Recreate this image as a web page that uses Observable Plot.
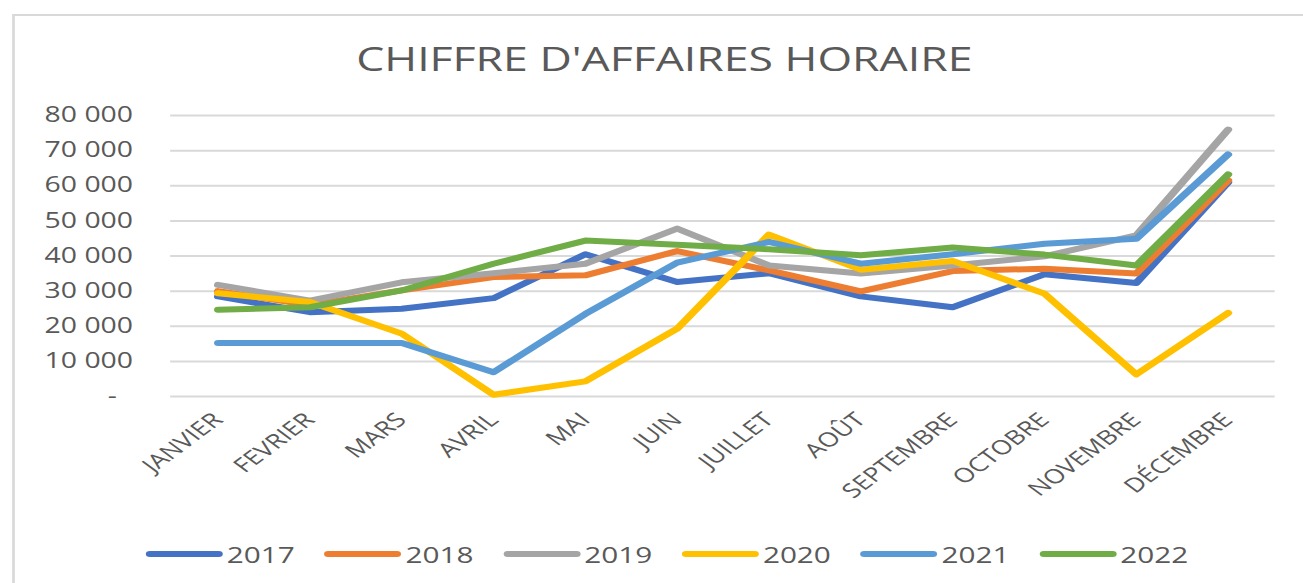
<!DOCTYPE html>
<html>
<head>
<meta charset="utf-8">
<script src="https://cdn.jsdelivr.net/npm/d3@7"></script>
<script src="https://cdn.jsdelivr.net/npm/@observablehq/plot@0.6"></script>
<style>
  html, body { margin: 0; padding: 0; background: #fff; overflow: hidden; }
  body { width: 1303px; height: 583px; position: relative; }
  #wrap { position: absolute; left: 0; top: 0; width: 965px; height: 583px;
          transform: scaleX(1.3503); transform-origin: 0 0; font-family: "Open Sans", sans-serif; color: #595959; }
  #frame { position: absolute; left: 9px; top: 14px; width: 1000px; height: 700px;
           border: 2px solid #d9d9d9; box-sizing: border-box; }
  #title { position: absolute; left: 0; top: 42px; width: 984px; text-align: center;
           font-size: 33px; line-height: 1; color: #595959; white-space: nowrap; }
  #chart { position: absolute; left: 0; top: 95px; }
  #legend { position: absolute; left: 108px; top: 537px; display: flex; align-items: center; gap: 22px; }
  .item { display: flex; align-items: center; gap: 3px; }
  .sw { width: 57px; height: 6px; border-radius: 3px; }
  .lab { font-size: 22px; line-height: 34px; color: #595959; }
</style>
</head>
<body>
<div id="wrap">
  <div id="frame"></div>
  <div id="title">CHIFFRE D'AFFAIRES HORAIRE</div>
  <div id="chart"></div>
  <div id="legend"></div>
</div>
<script>
const months = ["JANVIER","FEVRIER","MARS","AVRIL","MAI","JUIN","JUILLET","AOÛT","SEPTEMBRE","OCTOBRE","NOVEMBRE","DÉCEMBRE"];
const years = ["2017","2018","2019","2020","2021","2022"];
const colors = ["#4472C4","#ED7D31","#A5A5A5","#FFC000","#5B9BD5","#70AD47"];
const v2017 = [28500, 24000, 25000, 28000, 40500, 32600, 35100, 28500, 25400, 34800, 32300, 61000];
const v2018 = [30000, 26000, 30200, 34000, 34500, 41400, 35900, 29900, 35700, 36400, 35000, 61500];
const v2019 = [31800, 27300, 32500, 35100, 37800, 47800, 37300, 35000, 37300, 39900, 45900, 76000];
const v2020 = [29400, 26900, 17900, 500, 4300, 19300, 46100, 36100, 38600, 29300, 6300, 23800];
const v2021 = [15200, 15200, 15200, 6900, 23500, 38100, 44000, 37800, 40500, 43500, 44900, 68900];
const v2022 = [24700, 25400, 30200, 37800, 44400, 43200, 41900, 40200, 42400, 40400, 37300, 63200];
const yTicks = [0, 10000, 20000, 30000, 40000, 50000, 60000, 70000, 80000];

const series = [v2017, v2018, v2019, v2020, v2021, v2022];
const data = [];
series.forEach((vals, i) => vals.forEach((v, j) => data.push({year: years[i], month: months[j], value: v})));

const fr = d3.formatLocale({thousands: "\u00a0", grouping: [3], decimal: ",", currency: ["", ""]}).format(",");

const chart = Plot.plot({
  width: 965,
  height: 401,
  marginTop: 20,
  marginBottom: 100,
  marginLeft: 126,
  marginRight: 21,
  style: {fontFamily: "Open Sans, sans-serif", color: "#595959", background: "transparent", overflow: "visible"},
  x: {type: "point", domain: months, padding: 0.5, label: null},
  y: {domain: [0, 80000], label: null},
  color: {domain: years, range: colors},
  marks: [
    Plot.gridY(yTicks, {stroke: "#d9d9d9", strokeOpacity: 1, strokeWidth: 2}),
    Plot.axisY(yTicks.filter(d => d !== 0), {tickSize: 0, tickPadding: 28, tickFormat: d => fr(d), fontSize: 21, label: null, fill: "#595959"}),
    Plot.axisY([0], {tickSize: 0, tickPadding: 40, tickFormat: () => "-", fontSize: 21, label: null, fill: "#595959"}),
    Plot.axisX({tickRotate: -45, tickSize: 0, tickPadding: 20, fontSize: 20, label: null, fill: "#595959"}),
    Plot.line(data, {x: "month", y: "value", z: "year", stroke: "year", strokeWidth: 6, strokeLinecap: "round", strokeLinejoin: "round"})
  ]
});
document.getElementById("chart").appendChild(chart);

const legend = document.getElementById("legend");
years.forEach((y, i) => {
  const it = document.createElement("div");
  it.className = "item";
  it.innerHTML = `<div class="sw" style="background:${colors[i]}"></div><span class="lab">${y}</span>`;
  legend.appendChild(it);
});
</script>
</body>
</html>
